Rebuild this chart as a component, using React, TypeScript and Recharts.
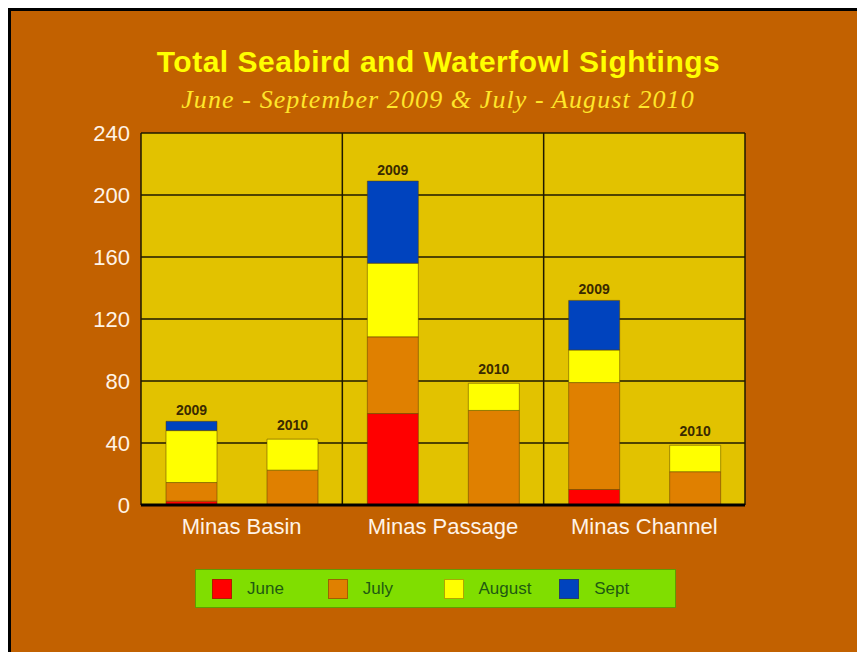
import { Bar, BarChart, CartesianGrid, LabelList, XAxis, YAxis } from 'recharts';

const categories = ['Minas Basin', 'Minas Passage', 'Minas Channel'];
const years = ['2009', '2010'];
const months = ['June', 'July', 'August', 'Sept'];
const monthColors = ['#FF0000', '#E08000', '#FFFF00', '#0043BE'];

// sightings per category (Basin, Passage, Channel)
const june2009 = [2.5, 59, 10];
const july2009 = [12, 49.5, 69];
const august2009 = [33.5, 47.5, 21];
const sept2009 = [6, 53, 32];

const june2010 = [0, 0, 0];
const july2010 = [22.5, 61, 21.5];
const august2010 = [20, 17.5, 17];
const sept2010 = [0, 0, 0];

const yTicks = [0, 40, 80, 120, 160, 200, 240];

const seriesByYear = [
  [june2009, july2009, august2009, sept2009],
  [june2010, july2010, august2010, sept2010],
];

const chartData = categories.map((name, i) => {
  const row: Record<string, string | number> = { name };
  years.forEach((y, yi) => {
    months.forEach((m, k) => {
      row[`${m}-${y}`] = seriesByYear[yi][k][i];
    });
  });
  return row;
});

// the year label sits on the highest month that has any sightings
const topMonth = seriesByYear.map((list) => {
  let top = 0;
  list.forEach((vals, k) => {
    if (vals.some((v) => v > 0)) top = k;
  });
  return top;
});

const font = "'Liberation Sans', Arial, sans-serif";

function yearLabel(year: string, gap: number) {
  return (p: any) => (
    <text
      x={Number(p.x) + Number(p.width) / 2}
      y={Number(p.y) - gap}
      textAnchor="middle"
      fontFamily={font}
      fontWeight="bold"
      fontSize={14}
      fill="#3a2a00"
    >
      {year}
    </text>
  );
}

function Legend() {
  return (
    <div
      style={{
        position: 'absolute',
        left: 184,
        top: 558,
        width: 481,
        height: 39,
        boxSizing: 'border-box',
        background: '#80DE00',
        border: '1px solid #5f9e00',
        display: 'flex',
        alignItems: 'center',
        paddingLeft: 16,
        fontFamily: font,
        fontSize: 17,
        color: '#1f5a12',
      }}
    >
      {months.map((m, k) => (
        <div key={m} style={{ width: 120, display: 'flex', alignItems: 'center' }}>
          <span
            style={{
              display: 'inline-block',
              width: 20,
              height: 20,
              boxSizing: 'border-box',
              background: monthColors[k],
              border: '1px solid rgba(80,60,0,0.45)',
              marginRight: 15,
            }}
          />
          <span>{m}</span>
        </div>
      ))}
    </div>
  );
}

export default function App() {
  return (
    <div
      style={{
        position: 'relative',
        width: 857,
        height: 644,
        boxSizing: 'border-box',
        background: '#C26100',
        borderTop: '3px solid #000',
        borderLeft: '3px solid #000',
        overflow: 'hidden',
      }}
    >
      <div
        style={{
          position: 'absolute',
          left: 0,
          top: 36,
          width: 855,
          textAlign: 'center',
          fontFamily: font,
          fontWeight: 'bold',
          fontSize: 30,
          lineHeight: '30px',
          letterSpacing: 0.5,
          color: '#FFFF00',
        }}
      >
        Total Seabird and Waterfowl Sightings
      </div>
      <div
        style={{
          position: 'absolute',
          left: 0,
          top: 76,
          width: 854,
          textAlign: 'center',
          fontFamily: "'Liberation Serif', 'Times New Roman', serif",
          fontStyle: 'italic',
          fontSize: 26,
          lineHeight: '26px',
          letterSpacing: 1.1,
          color: '#FFE62A',
        }}
      >
        June - September 2009 &amp; July - August 2010
      </div>
      <div style={{ position: 'absolute', left: 0, top: 0 }}>
        <BarChart
          width={854}
          height={641}
          data={chartData}
          margin={{ top: 122, right: 120, left: 70, bottom: 107 }}
          barGap={50}
          barCategoryGap={25}
        >
          <CartesianGrid
            fill="#E2C200"
            fillOpacity={1}
            stroke="#1e1800"
            strokeWidth={1.5}
            verticalCoordinatesGenerator={({ offset }: any) => [
              offset.left,
              offset.left + offset.width / 3,
              offset.left + (2 * offset.width) / 3,
              offset.left + offset.width,
            ]}
          />
          <XAxis
            dataKey="name"
            height={40}
            axisLine={{ stroke: '#000', strokeWidth: 3 }}
            tickLine={false}
            tickMargin={7}
            tick={{ fontSize: 22, fill: '#FFF3E6', fontFamily: font }}
          />
          <YAxis
            domain={[0, 240]}
            ticks={yTicks}
            width={60}
            axisLine={false}
            tickLine={false}
            tickMargin={5}
            tick={{ fontSize: 22, fill: '#FFF3E6', fontFamily: font }}
          />
          {years.map((y, yi) =>
            months.map((m, k) => (
              <Bar
                key={`${m}-${y}`}
                dataKey={`${m}-${y}`}
                stackId={y}
                fill={monthColors[k]}
                stroke="rgba(90,60,0,0.5)"
                strokeWidth={1}
                isAnimationActive={false}
              >
                {k === topMonth[yi] && <LabelList content={yearLabel(y, yi === 0 ? 6 : 9)} />}
              </Bar>
            )),
          )}
        </BarChart>
      </div>
      <Legend />
    </div>
  );
}
